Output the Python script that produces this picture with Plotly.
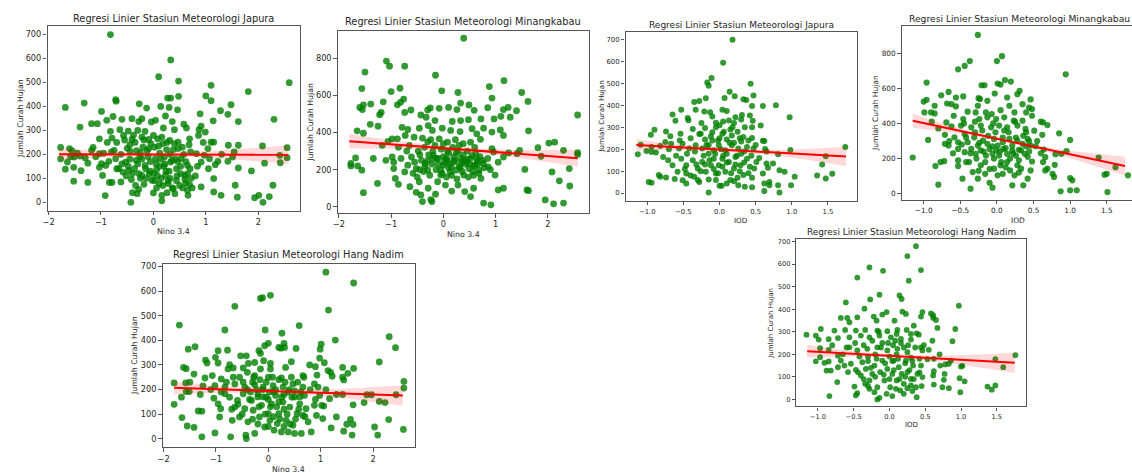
import plotly.graph_objects as go

# ---------------- data ----------------
nino_tickvals = [-2, -1, 0, 1, 2]
nino_ticktext = ["\u22122", "\u22121", "0", "1", "2"]
iod_tickvals = [-1.0, -0.5, 0.0, 0.5, 1.0, 1.5]
iod_ticktext = ["\u22121.0", "\u22120.5", "0.0", "0.5", "1.0", "1.5"]
ticks_0_700 = [0, 100, 200, 300, 400, 500, 600, 700]
ticks_0_800 = [0, 200, 400, 600, 800]

# Japura vs Nino 3.4 : (nino, rain)
japura_nino = [
(-0.82,700),(0.33,594),(0.10,524),(0.48,506),(2.59,499),(1.10,488),(1.81,462),(1.10,424),(0.48,442),(0.33,435),(0.27,435),(1.00,444),(-0.72,428),(-0.71,422),(-1.32,414),(-1.68,396),(-0.27,411),(-0.13,393),(0.14,400),(0.30,396),(0.46,386),(1.48,407),(1.42,367),(1.28,382),(1.14,340),(1.62,337),(2.30,346),(0.89,369),(-0.99,379),(-1.40,314),(-1.18,328),(-0.89,342),(-0.77,358),(-0.60,346),(-0.41,349),(-0.28,337),(-0.22,349),(-0.04,335),(0.04,342),(0.23,360),(0.36,337),(0.58,326),(0.63,310),(0.87,303),(0.91,318),(-1.07,328),(-0.82,296),(-0.64,303),(-0.48,297),(-0.30,300),(-0.16,296),(0.19,310),(0.40,303),(0.99,293),(-1.03,265),(-0.79,268),(-0.57,279),(-0.41,262),(-0.22,272),(-0.09,262),(0.00,279),(0.16,272),(0.31,258),(0.47,251),(0.69,265),(0.86,279),(1.10,251),
(-1.77,229),(-1.77,181),(-1.60,224),(-1.55,214),(-1.64,168),(-1.68,138),(-1.52,146),(-1.52,88),(-1.40,193),(-1.51,189),(-1.25,163),(-1.25,83),(-1.38,132),(-1.15,229),(-1.18,217),(-1.03,203),(-1.03,146),(-0.97,112),(-0.92,28),(-0.99,161),(-0.91,154),(-0.85,171),(-0.84,83),(-0.79,83),(-0.75,217),(-0.72,182),(-0.66,140),(-0.62,85),(-0.58,126),(-0.53,168),(-0.47,133),(-0.44,212),(-0.40,40),(-0.43,0),(-0.31,36),(-0.28,54),(-0.33,175),(-0.25,207),(-0.22,112),(-0.16,154),(-0.09,224),(-0.08,119),(-0.03,92),(0.00,39),(0.04,182),(0.06,136),(0.11,78),(0.16,29),(0.16,6),(0.21,189),(0.23,112),(0.28,78),(0.33,168),(0.38,57),(0.41,36),(0.44,140),(0.47,224),(0.53,182),(0.60,112),(0.65,50),(0.66,29),(0.69,74),(0.65,154),(0.71,210),(0.82,203),(0.91,168),(0.91,64),(0.97,196),(1.04,224),(1.07,182),(1.15,251),(1.15,99),(1.15,43),(1.18,157),(1.23,171),(1.29,29),(1.42,171),(1.43,238),(1.51,189),(1.54,210),(1.56,71),(1.60,21),(1.62,238),(1.62,143),(1.87,131),(1.93,19),(2.01,29),(2.08,235),(2.09,0),(2.12,163),(2.21,24),(2.28,71),(2.41,196),(2.42,165),(2.55,228),(2.55,186),
(-0.35,250),(-0.20,230),(-0.05,245),(0.10,235),(0.25,220),(0.40,245),(0.55,230),(-0.45,180),(-0.30,160),(-0.15,140),(0.00,120),(0.15,100),(0.30,130),(0.45,110),(0.60,95),(-0.25,100),(0.05,160),(0.20,150),(0.35,175),(-0.40,120),(0.50,70),(0.65,120),(-0.10,190),(0.12,205),(0.28,90),(-0.60,160),(-0.70,140),(0.70,140),(0.80,110),(-0.50,225),
(-0.55,260),(-0.45,240),(-0.38,280),(-0.32,215),(-0.26,190),(-0.18,260),(-0.12,215),(-0.06,170),(0.02,230),(0.08,265),(0.14,180),(0.18,245),(0.22,160),(0.26,250),(0.32,200),(0.38,220),(0.42,180),(0.52,150),(0.58,200),(0.62,170),(0.68,240),(0.72,100),(-0.62,200),(-0.52,110),(-0.48,150),(-0.36,140),(-0.28,120),(-0.22,180),(-0.14,100),(-0.06,130),(0.02,90),(0.08,110),(0.12,150),(0.18,70),(0.24,130),(0.32,100),(0.36,60),(0.44,90),(0.52,120),(0.56,60),(0.62,80),(0.74,60),(-0.70,250),(-0.80,210),(-0.88,250),(-0.95,205),(-1.10,190),(-1.30,185),(-1.45,205),(-1.58,190),(-0.42,95),(-0.34,70),(-0.18,75),(0.06,60),(0.26,40),(0.46,170),(0.84,150),(0.95,250),(1.05,140),(1.30,200)]

# Minangkabau vs Nino 3.4
minang_nino = [
(0.39,907),(-1.09,784),(-1.03,757),(-0.74,757),(-1.50,725),(-0.15,708),(1.16,679),(0.88,647),(-1.56,636),(-0.83,638),(-1.00,620),(-0.03,624),(0.28,615),(1.50,615),(-0.76,580),(0.93,585),(-1.15,565),(1.62,567),(0.33,558),(-1.39,553),(-0.88,549),(-0.82,562),(0.49,548),(-1.53,549),(-1.60,535),(-1.55,523),(1.24,535),(0.85,533),(0.10,535),(-0.08,530),(-0.25,532),(-0.30,521),(-0.62,521),(-0.74,508),(0.26,523),(0.59,519),(-1.19,508),(-1.22,496),(1.15,523),(1.10,487),(1.28,482),(1.40,517),(-0.43,494),(-0.33,482),(-0.16,464),(0.17,459),(0.33,464),(0.48,469),(0.72,473),(0.97,473),(-1.40,444),(-1.25,434),(-1.65,409),(-1.53,396),(-0.79,428),(-0.68,416),(-0.46,423),(-0.29,437),(-0.21,411),(-0.02,423),(0.14,411),(0.32,405),(0.55,420),(0.77,423),(1.09,414),(1.15,384),(1.63,409),(0.93,402),(0.64,393),(-0.98,366),(-1.06,352),(-0.88,366),(-0.73,384),(-0.56,375),(-0.40,370),(-0.24,361),(-0.08,366),(0.08,348),(0.23,361),(0.38,340),(0.52,348),(0.71,363),(-1.17,331),(-1.34,260),(-1.77,233),(-1.77,220),(-1.68,263),(-1.64,220),(-1.56,197),(-1.53,76),(-1.26,126),(-0.98,268),(-0.95,206),(-0.92,153),(-0.86,121),(-0.81,260),(-0.74,188),(-0.68,224),(-0.64,108),(-0.61,268),(-0.52,206),(-0.46,135),(-0.52,78),(-0.43,64),(-0.40,28),(-0.35,233),(-0.30,197),(-0.29,100),(-0.24,39),(-0.22,28),(-0.15,68),(-0.19,277),(-0.13,260),(-0.11,135),(-0.05,171),(0.00,224),(0.04,117),(0.08,251),(0.13,188),(0.16,85),(0.20,242),(0.24,197),(0.28,117),(0.33,260),(0.39,171),(0.41,82),(0.45,242),(0.49,206),(0.52,55),(0.58,100),(0.59,224),(0.64,260),(0.68,197),(0.72,153),(0.77,233),(0.77,20),(0.86,215),(0.91,11),(0.93,313),(0.96,295),(0.99,171),(1.05,91),(1.15,100),(1.15,268),(1.41,286),(1.46,304),(1.56,201),(1.60,91),(1.63,87),(1.81,318),(1.87,272),(1.95,37),(2.02,343),(2.08,188),(2.11,16),(2.13,348),(2.22,140),(2.30,20),(2.30,304),(2.41,206),(2.42,112),(2.57,292),(2.57,281),(2.57,494),
(-0.30,250),(-0.10,230),(0.05,260),(0.20,270),(0.35,240),(0.50,230),(0.65,245),(-0.45,280),(-0.20,300),(0.10,290),(0.30,220),(0.45,255),(0.60,220),(0.75,250),(-0.05,200),(0.15,215),(-0.35,220),(0.00,270),(0.25,290),(0.55,275),
(-0.55,240),(-0.48,300),(-0.42,250),(-0.36,320),(-0.28,280),(-0.22,230),(-0.16,330),(-0.10,260),(-0.04,310),(0.02,240),(0.08,300),(0.12,230),(0.18,320),(0.22,250),(0.28,300),(0.32,210),(0.38,280),(0.42,230),(0.46,300),(0.52,260),(0.56,190),(0.62,290),(0.66,230),(0.70,270),(0.78,210),(-0.58,180),(-0.50,160),(-0.38,190),(-0.26,170),(-0.14,200),(-0.02,180),(0.06,160),(0.16,170),(0.26,150),(0.36,190),(0.48,160),(0.58,170),(0.68,180),(-0.70,300),(-0.86,320),(-0.95,240),(-1.10,250),(-0.30,350),(0.00,340),(0.30,330),(0.60,320),(0.85,260),(0.90,200),(1.05,240),(1.25,290),(-0.45,200),(-0.20,260),(0.10,210),(0.40,250),(-0.65,330)]

# Japura vs IOD
japura_iod = [
(0.18,700),(0.05,595),(-0.11,525),(-0.17,505),(-0.15,490),(0.43,499),(0.14,463),(0.47,446),(0.21,442),(0.07,434),(-0.19,433),(0.33,428),(0.37,425),(0.78,401),(0.45,398),(0.60,398),(-0.35,416),(-0.28,420),(-0.53,381),(-0.33,381),(0.04,381),(0.10,375),(-0.21,372),(-0.13,369),(-0.65,359),(0.31,357),(0.22,346),(0.30,336),(0.42,354),(-0.44,343),(-0.43,333),(0.97,346),(-0.61,330),(0.46,330),(0.05,327),(0.13,331),(-0.05,321),(0.57,309),(-0.90,289),(-0.37,293),(-0.20,297),(0.45,301),(-0.95,266),(-0.74,281),(-0.68,260),(-0.54,271),(-0.26,271),(-0.10,278),(0.04,271),(0.17,263),(0.33,256),(0.45,251),(0.60,239),(0.62,238),(-1.09,221),(-0.94,210),(-0.82,215),(-1.01,192),(-0.88,185),(-1.13,177),(-0.75,233),(-0.67,225),(-0.56,203),(-0.51,225),(-0.42,203),(-0.33,218),(-0.24,203),(-0.15,218),(-0.08,195),(-0.01,218),(0.08,195),(0.17,218),(0.26,203),(0.38,210),(0.47,203),(0.63,201),(0.98,197),(0.81,177),(1.74,210),(1.47,168),(1.42,130),(1.35,80),(1.56,88),(1.47,67),(1.04,74),(0.99,36),(0.81,36),(0.83,3),(0.90,97),(0.83,104),(0.74,135),(0.67,116),(0.65,135),(0.69,36),(0.62,44),(0.62,9),(0.60,89),(0.69,51),(0.48,112),(0.51,142),(0.45,27),(0.35,29),(0.26,36),(0.20,54),(0.10,44),(0.03,33),(0.00,33),(-0.15,62),(-0.15,3),(-0.28,51),(-0.46,44),(-0.51,59),(-0.62,64),(-0.74,71),(-0.82,74),(-0.84,82),(-0.94,47),(-0.98,50),(-0.94,188),(-0.78,165),(-0.71,150),(-0.65,127),(-0.53,157),(-0.46,127),(-0.37,150),(-0.30,112),(-0.24,142),(-0.19,97),(-0.12,127),(-0.08,157),(-0.05,89),(-0.01,127),(0.04,157),(0.08,97),(0.13,142),(0.20,112),(0.22,165),(0.29,127),(0.33,82),(0.38,157),(0.42,120),(-0.46,89),(-0.58,97),(-0.35,74),
(-0.10,240),(0.00,250),(0.10,245),(0.20,230),(-0.20,245),(0.30,235),(-0.05,300),(0.15,290),(0.25,280),(-0.15,180),(0.05,170),(0.30,180),
(-0.45,180),(-0.40,250),(-0.34,190),(-0.28,270),(-0.22,170),(-0.18,220),(-0.12,260),(-0.06,180),(-0.02,240),(0.02,200),(0.06,280),(0.10,180),(0.14,230),(0.18,300),(0.24,170),(0.28,250),(0.34,190),(0.40,240),(0.44,170),(0.50,220),(-0.48,110),(-0.40,80),(-0.32,130),(-0.26,100),(-0.20,130),(-0.14,150),(-0.08,110),(-0.02,90),(0.04,120),(0.10,140),(0.16,90),(0.22,130),(0.28,100),(0.34,140),(0.40,90),(-0.60,170),(-0.70,200),(-0.55,240),(0.55,160),(0.65,190),(-0.25,320),(0.00,310),(0.20,320),(-0.10,350),(0.35,300),(-0.30,60),(0.15,60),(0.25,70),(-0.05,60),(0.45,70)]

# Minangkabau vs IOD
minang_iod = [
(-0.26,905),(0.07,784),(0.00,756),(-0.37,756),(-0.44,728),(-0.53,709),(0.94,680),(-0.96,633),(0.11,648),(0.01,628),(0.05,622),(0.19,639),(-0.21,618),(-0.17,618),(-0.66,580),(-0.76,561),(-0.03,571),(0.28,567),(0.31,586),(-0.56,548),(-0.46,554),(-0.25,544),(-0.23,539),(-0.13,529),(0.14,548),(0.46,537),(-1.00,525),(-0.96,535),(-0.85,501),(-0.68,514),(-0.62,510),(-0.56,497),(-0.26,501),(0.17,501),(0.35,510),(0.44,491),(0.48,482),(-0.99,463),(-0.90,463),(-0.85,457),(-0.40,467),(-0.29,463),(-0.15,463),(-0.07,454),(0.05,476),(0.24,463),(0.40,463),(-0.59,444),(-0.46,425),(-0.24,425),(-0.13,435),(-0.01,425),(0.10,435),(0.23,416),(0.35,416),(0.48,444),(-0.89,410),(-0.69,406),(0.60,410),(0.63,406),(0.69,391),(-0.80,372),(-0.62,384),(-0.49,388),(-0.35,378),(-0.22,388),(-0.08,378),(0.03,388),(0.14,378),(0.28,388),(0.39,369),(0.51,359),(0.62,335),(0.85,344),(1.00,306),(-0.94,306),(-0.71,335),(-0.71,284),(-0.66,274),(-0.58,321),(-0.53,293),(-0.44,340),(-0.40,293),(-0.31,321),(-0.26,274),(-0.19,302),(-0.13,284),(-0.04,312),(0.01,274),(0.08,293),(0.17,312),(0.21,274),(0.28,302),(0.35,284),(0.42,312),(0.46,274),(0.53,270),(-0.53,255),(-0.44,236),(-0.35,255),(-0.29,227),(-0.22,246),(-0.15,217),(-0.10,255),(-0.06,227),(-0.01,246),(0.03,217),(0.09,255),(0.14,227),(0.21,246),(0.26,217),(0.33,246),(0.38,227),(0.44,240),(0.64,251),(0.66,208),(0.80,225),(0.88,227),(0.95,242),(0.79,164),(0.76,113),(0.78,95),(0.69,142),(0.63,180),(0.66,132),(0.87,13),(1.00,89),(1.03,76),(1.00,19),(1.09,19),(1.39,206),(1.62,151),(1.47,108),(1.50,113),(1.51,9),(1.79,104),(-1.15,206),(-0.84,157),(-0.77,180),(-0.72,185),(-0.80,51),(-0.53,189),(-0.53,157),(-0.47,85),(-0.42,180),(-0.36,28),(-0.33,123),(-0.26,85),(-0.22,161),(-0.16,113),(-0.10,62),(-0.06,34),(-0.04,142),(0.01,104),(0.05,161),(0.08,113),(0.14,180),(0.18,132),(0.21,47),(0.24,104),(0.28,161),(0.33,142),(0.36,47),(0.42,85),(0.46,132),(0.48,183),
(-0.48,280),(-0.42,320),(-0.36,230),(-0.30,350),(-0.24,290),(-0.18,240),(-0.12,330),(-0.06,270),(-0.02,350),(0.04,240),(0.08,320),(0.12,260),(0.16,350),(0.22,230),(0.26,320),(0.30,250),(0.36,330),(0.40,270),(0.44,300),(-0.45,400),(-0.30,410),(-0.20,360),(-0.05,400),(0.10,360),(0.25,410),(0.40,350),(-0.38,180),(-0.28,200),(-0.16,180),(-0.04,200),(0.06,180),(0.18,200),(0.30,190),(0.42,210),(-0.60,230),(-0.65,300),(0.55,300),(0.60,230),(-0.10,140),(0.12,150),(-0.25,130),(0.30,120)]

# Hang Nadim vs Nino 3.4
hangnadim_nino = [
(1.10,677),(1.63,633),(0.04,583),(-0.15,570),(-0.11,573),(-0.64,538),(1.15,523),(-1.70,462),(0.59,460),(-0.83,442),(-0.06,442),(0.26,429),(2.31,415),(1.28,401),(0.00,388),(-0.07,378),(1.01,384),(2.43,370),(-1.40,374),(-1.53,364),(-0.96,358),(-0.78,360),(0.30,388),(0.31,371),(0.20,371),(0.24,368),(0.53,367),(0.99,364),(-0.18,358),(-0.15,347),(-1.01,331),(-0.53,337),(-0.42,337),(0.98,328),(-1.20,320),(-1.17,308),(1.07,309),(0.44,313),(-0.09,317),(-0.96,308),(-0.74,301),(-0.38,306),(-0.26,310),(0.04,306),(0.79,300),(0.90,293),(2.12,312),(0.33,290),(-1.62,290),(-1.57,285),(-0.77,284),(-0.67,288),(-0.48,288),(-0.15,284),(0.04,284),(1.14,277),(1.19,270),(1.63,286),(1.42,290),(-1.42,263),(-1.07,257),(-1.21,247),(-0.90,243),(-0.67,250),(-0.26,257),(0.00,250),(0.25,247),(0.66,257),(0.93,259),(1.22,254),(1.42,250),(1.52,266),(1.44,239),(-1.80,227),(-1.58,227),(-1.25,215),(-1.02,216),(-0.83,210),(-0.64,223),(-0.45,210),(-0.26,220),(-0.10,210),(0.09,216),(0.28,210),(0.47,223),(0.66,210),(0.88,223),(0.95,210),(2.59,233),(2.59,206),(-1.57,192),(-1.51,192),(-1.66,169),(-1.80,140),(-1.65,86),(-1.55,52),(-1.42,46),(-1.34,113),(-1.27,112),(-1.27,8),(-1.04,165),(-1.02,24),(-0.96,142),(-0.93,89),(-0.91,122),(-0.83,183),(-0.74,169),(-0.72,8),(-0.69,75),(-0.64,129),(-0.59,156),(-0.55,89),(-0.48,183),(-0.45,122),(-0.42,1),(-0.43,15),(-0.39,69),(-0.32,156),(-0.29,116),(-0.26,22),(-0.20,183),(-0.17,89),(-0.13,136),(-0.07,48),(-0.04,169),(0.00,102),(0.03,75),(0.06,142),(0.11,35),(0.14,176),(0.17,62),(0.20,102),(0.25,28),(0.28,149),(0.34,75),(0.38,28),(0.41,129),(0.45,169),(0.47,55),(0.50,22),(0.55,102),(0.60,142),(0.63,22),(0.66,95),(0.69,176),(0.72,122),(0.76,69),(0.82,28),(0.88,136),(0.92,95),(0.98,176),(1.02,136),(1.06,133),(1.04,82),(1.17,163),(1.20,44),(1.30,89),(1.42,180),(1.44,31),(1.50,59),(1.57,79),(1.62,138),(1.60,15),(1.62,58),(1.83,147),(1.88,179),(1.97,179),(2.03,48),(2.09,15),(2.12,152),(2.23,147),(2.30,78),(2.44,179),(2.58,38),
(-0.30,230),(-0.10,200),(0.10,190),(0.30,180),(0.50,195),(-0.20,170),(0.00,160),(0.20,150),(0.40,200),(-0.40,200),(0.60,170),
(-0.55,250),(-0.48,230),(-0.40,270),(-0.34,190),(-0.28,250),(-0.22,200),(-0.16,240),(-0.10,170),(-0.04,230),(0.02,190),(0.08,250),(0.14,200),(0.20,240),(0.26,170),(0.32,230),(0.38,190),(0.44,250),(0.50,170),(0.56,230),(0.62,190),(0.68,250),(-0.58,140),(-0.50,100),(-0.36,160),(-0.30,80),(-0.18,130),(-0.06,100),(0.04,130),(0.10,90),(0.16,130),(0.22,80),(0.30,120),(0.36,100),(0.42,60),(0.52,80),(0.58,120),(0.70,90),(-0.80,230),(-0.90,190),(-1.10,200),(-1.30,180),(-1.50,230),(0.80,200),(0.90,160),(1.10,200),(1.30,180),(-0.20,60),(0.00,50),(0.30,50),(-0.70,120)]

# Hang Nadim vs IOD
hangnadim_iod = [
(0.37,679),(0.25,635),(0.44,573),(-0.28,585),(-0.09,570),(-0.45,540),(0.27,526),(-0.14,464),(0.14,461),(0.17,445),(-0.27,443),(-0.61,430),(0.97,415),(-0.35,402),(-0.04,387),(0.18,389),(0.23,379),(0.46,387),(-0.10,376),(0.58,381),(0.61,373),(0.61,361),(0.65,352),(0.44,367),(-0.45,364),(-0.22,367),(-0.68,361),(-0.59,361),(-0.56,342),(-0.18,349),(0.07,349),(0.34,327),(-0.96,312),(0.92,312),(0.67,317),(-0.77,305),(-0.62,308),(-0.47,305),(-0.34,308),(-0.17,305),(-0.03,302),(0.11,308),(0.24,308),(-1.16,287),(-1.03,283),(-0.85,267),(-0.72,272),(-0.56,275),(-0.40,283),(-0.28,275),(-0.14,283),(0.02,275),(0.16,268),(0.30,265),(0.38,293),(0.41,287),(0.88,258),(-0.99,265),(-0.97,227),(-0.85,219),(-0.72,194),(-0.56,231),(-0.45,217),(-0.31,224),(-0.17,231),(-0.03,217),(0.11,224),(0.25,209),(0.44,231),(0.46,217),(0.53,178),(0.62,180),(0.71,150),(0.78,155),(0.83,158),(0.86,172),(1.02,149),(1.00,146),(1.48,178),(1.76,196),(1.59,143),(1.48,62),(1.37,57),(1.43,43),(1.05,80),(0.98,94),(0.99,32),(0.83,50),(0.76,87),(0.74,54),(0.77,113),(0.62,125),(0.61,106),(0.62,66),(0.38,10),(0.45,59),(0.30,62),(0.32,37),(0.20,25),(0.09,47),(0.04,15),(-0.04,25),(-0.17,0),(-0.14,7),(-0.21,32),(-0.28,47),(-0.34,69),(-0.45,28),(-0.47,18),(-0.49,57),(-0.84,15),(-0.73,77),(-0.82,128),(-0.88,128),(-0.91,162),(-1.03,169),(-0.97,187),(-0.85,168),(-0.72,143),(-0.68,172),(-0.63,150),(-0.58,121),(-0.54,158),(-0.47,131),(-0.40,106),(-0.38,165),(-0.33,135),(-0.28,84),(-0.24,113),(-0.21,150),(-0.17,54),(-0.13,121),(-0.10,172),(-0.07,84),(-0.03,135),(0.01,54),(0.04,113),(0.06,172),(0.10,84),(0.13,143),(0.17,113),(0.20,69),(0.23,172),(0.25,121),(0.30,91),(0.33,150),(0.37,54),(0.39,113),(0.44,150),(0.46,99),
(-0.20,200),(0.00,190),(0.10,200),(0.30,185),(-0.10,250),(0.05,240),(0.20,230),(-0.30,190),
(-0.48,250),(-0.42,190),(-0.36,240),(-0.30,170),(-0.24,260),(-0.18,180),(-0.12,230),(-0.06,160),(-0.02,250),(0.04,170),(0.08,260),(0.12,180),(0.16,250),(0.22,160),(0.26,240),(0.32,170),(0.36,230),(0.42,180),(0.48,240),(-0.44,120),(-0.36,90),(-0.26,140),(-0.20,100),(-0.08,110),(0.00,90),(0.06,130),(0.14,90),(0.22,100),(0.28,130),(0.34,90),(0.42,120),(-0.60,230),(-0.65,200),(-0.80,240),(0.55,220),(0.60,260),(0.70,200),(-0.15,300),(0.10,290),(0.30,290),(-0.30,60),(0.15,40),(0.25,50)]

# regression lines and 95% bands
nino_fit_x = [-1.8, -0.8, 0.2, 1.2, 2.57]
iod_fit_x = [-1.15, -0.5, 0.05, 0.8, 1.75]
japura_nino_fit = [200, 199.5, 199, 198.5, 198]
japura_nino_lo = [177, 188, 192, 184, 160]
japura_nino_hi = [225, 212, 208, 216, 238]
minang_nino_fit = [353, 332, 311, 290, 262]
minang_nino_lo = [314, 312, 299, 272, 216]
minang_nino_hi = [392, 352, 323, 308, 306]
japura_iod_fit = [220, 208, 198, 184, 167]
japura_iod_lo = [194, 196, 189, 170, 122]
japura_iod_hi = [246, 220, 207, 198, 212]
minang_iod_fit = [415, 357, 308, 241, 157]
minang_iod_lo = [374, 342, 298, 226, 102]
minang_iod_hi = [456, 372, 318, 256, 212]
hangnadim_nino_fit = [207, 200, 193, 186, 176]
hangnadim_nino_lo = [181, 187, 184, 170, 134]
hangnadim_nino_hi = [233, 213, 202, 202, 218]
hangnadim_iod_fit = [214, 202, 193, 179, 162]
hangnadim_iod_lo = [186, 190, 185, 163, 117]
hangnadim_iod_hi = [242, 214, 201, 195, 207]

# ---------------- layout ----------------
W, H = 1132, 473
FONT = "DejaVu Sans"
SPINE = "#555555"
TXT = "#262626"

panels = [
    dict(pts=japura_nino, fx=nino_fit_x, fy=japura_nino_fit, lo=japura_nino_lo, hi=japura_nino_hi,
         title="Regresi Linier Stasiun Meteorologi Japura", xlabel="Nino 3.4",
         box=(42.7, 23.3, 296, 209), ty=15.7, ylx=15.7, xly=230,
         xr=[-2.02, 2.79], yr=[-35, 735], xtv=nino_tickvals, xtt=nino_ticktext, ytv=ticks_0_700,
         tfs=9.8, lfs=7.8, kfs=8.2, ms=6.8, mirror_y=True),
    dict(pts=minang_nino, fx=nino_fit_x, fy=minang_nino_fit, lo=minang_nino_lo, hi=minang_nino_hi,
         title="Regresi Linier Stasiun Meteorologi Minangkabau", xlabel="Nino 3.4",
         box=(334.3, 28, 586.7, 211.3), ty=19, ylx=307.3, xly=233,
         xr=[-2.02, 2.79], yr=[-33, 947], xtv=nino_tickvals, xtt=nino_ticktext, ytv=ticks_0_800,
         tfs=9.8, lfs=7.8, kfs=8.2, ms=6.8, mirror_y=True),
    dict(pts=japura_iod, fx=iod_fit_x, fy=japura_iod_fit, lo=japura_iod_lo, hi=japura_iod_hi,
         title="Regresi Linier Stasiun Meteorologi Japura", xlabel="IOD",
         box=(623.3, 29.3, 856, 199), ty=22.3, ylx=599, xly=219,
         xr=[-1.30, 1.905], yr=[-35, 735], xtv=iod_tickvals, xtt=iod_ticktext, ytv=ticks_0_700,
         tfs=9.0, lfs=7.2, kfs=6.9, ms=6.0, mirror_y=True),
    dict(pts=minang_iod, fx=iod_fit_x, fy=minang_iod_fit, lo=minang_iod_lo, hi=minang_iod_hi,
         title="Regresi Linier Stasiun Meteorologi Minangkabau", xlabel="IOD",
         box=(900.7, 23.3, 1132, 198), ty=16, ylx=875, xly=219,
         xr=[-1.30, 1.845], yr=[-35, 955], xtv=iod_tickvals, xtt=iod_ticktext, ytv=ticks_0_800,
         tfs=9.2, lfs=7.5, kfs=7.3, ms=6.2, mirror_y=False, tcx=1019),
    dict(pts=hangnadim_nino, fx=nino_fit_x, fy=hangnadim_nino_fit, lo=hangnadim_nino_lo, hi=hangnadim_nino_hi,
         title="Regresi Linier Stasiun Meteorologi Hang Nadim", xlabel="Nino 3.4",
         box=(158.3, 262.7, 411.7, 447), ty=253, ylx=130, xly=469,
         xr=[-2.02, 2.80], yr=[-34, 710], xtv=nino_tickvals, xtt=nino_ticktext, ytv=ticks_0_700,
         tfs=9.8, lfs=7.8, kfs=8.2, ms=6.8, mirror_y=True),
    dict(pts=hangnadim_iod, fx=iod_fit_x, fy=hangnadim_iod_fit, lo=hangnadim_iod_lo, hi=hangnadim_iod_hi,
         title="Regresi Linier Stasiun Meteorologi Hang Nadim", xlabel="IOD",
         box=(795, 237.7, 1025.3, 406), ty=230, ylx=769.3, xly=425,
         xr=[-1.30, 1.905], yr=[-31, 710], xtv=iod_tickvals, xtt=iod_ticktext, ytv=ticks_0_700,
         tfs=8.9, lfs=7.0, kfs=6.7, ms=5.8, mirror_y=True),
]

fig = go.Figure()
annotations = []
layout = dict(width=W, height=H, margin=dict(l=0, r=0, t=0, b=0),
              paper_bgcolor="white", plot_bgcolor="white", showlegend=False,
              font=dict(family=FONT, color=TXT))

for i, p in enumerate(panels, start=1):
    sx = "" if i == 1 else str(i)
    xa, ya = "x" + sx, "y" + sx
    xs = [a for a, b in p["pts"]]
    ys = [b for a, b in p["pts"]]
    fig.add_trace(go.Scatter(x=xs, y=ys, mode="markers", xaxis=xa, yaxis=ya,
                             marker=dict(color="green", size=p["ms"], opacity=0.8,
                                         line=dict(width=0)), hoverinfo="skip"))
    fig.add_trace(go.Scatter(x=p["fx"], y=p["lo"], mode="lines", xaxis=xa, yaxis=ya,
                             line=dict(width=0, shape="spline", color="rgba(255,0,0,0)"),
                             hoverinfo="skip"))
    fig.add_trace(go.Scatter(x=p["fx"], y=p["hi"], mode="lines", xaxis=xa, yaxis=ya,
                             fill="tonexty", fillcolor="rgba(255,0,0,0.15)",
                             line=dict(width=0, shape="spline", color="rgba(255,0,0,0)"),
                             hoverinfo="skip"))
    fig.add_trace(go.Scatter(x=p["fx"], y=p["fy"], mode="lines", xaxis=xa, yaxis=ya,
                             line=dict(color="red", width=2), hoverinfo="skip"))

    x0, y0, x1, y1 = p["box"]
    common = dict(showgrid=False, zeroline=False, showline=True, linecolor=SPINE, linewidth=1.2,
                  ticks="outside", ticklen=3.5, tickwidth=1, tickcolor=SPINE,
                  tickfont=dict(family=FONT, size=p["kfs"], color=TXT), fixedrange=True)
    layout["xaxis" + sx] = dict(common, domain=[x0 / W, x1 / W], anchor=ya, range=p["xr"],
                                tickmode="array", tickvals=p["xtv"], ticktext=p["xtt"], mirror=True)
    layout["yaxis" + sx] = dict(common, domain=[1 - y1 / H, 1 - y0 / H], anchor=xa, range=p["yr"],
                                tickmode="array", tickvals=p["ytv"],
                                ticktext=[str(v) for v in p["ytv"]],
                                mirror=p["mirror_y"])
    cx = p.get("tcx", (x0 + x1) / 2)
    annotations.append(dict(text=p["title"], x=cx / W, y=1 - p["ty"] / H, xref="paper", yref="paper",
                            showarrow=False, xanchor="center", yanchor="middle",
                            font=dict(family=FONT, size=p["tfs"], color=TXT)))
    annotations.append(dict(text="Jumlah Curah Hujan", x=p["ylx"] / W, y=1 - ((y0 + y1) / 2) / H,
                            xref="paper", yref="paper", showarrow=False, textangle=-90,
                            xanchor="center", yanchor="middle",
                            font=dict(family=FONT, size=p["lfs"], color=TXT)))
    annotations.append(dict(text=p["xlabel"], x=((x0 + min(x1, W)) / 2 if i != 4 else 1017) / W,
                            y=1 - p["xly"] / H, xref="paper", yref="paper", showarrow=False,
                            xanchor="center", yanchor="middle",
                            font=dict(family=FONT, size=p["lfs"], color=TXT)))

layout["annotations"] = annotations
fig.update_layout(**layout)

fig.write_html("out.html", config={"displayModeBar": False},
               post_script="document.body.style.margin='0';document.body.style.overflow='hidden';")
